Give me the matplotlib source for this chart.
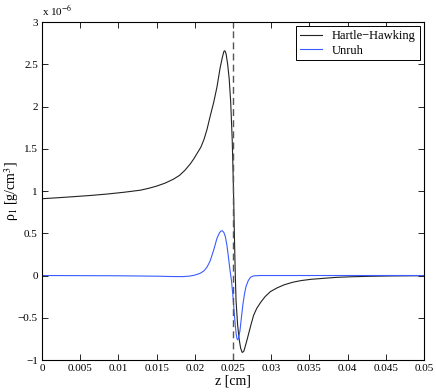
import matplotlib
matplotlib.use("Agg")
import matplotlib.pyplot as plt
from matplotlib.ticker import FuncFormatter

plt.rcParams["font.family"] = ["Liberation Serif", "DejaVu Serif"]
plt.rcParams["mathtext.fontset"] = "stix"

# values, rho in units of 1e-6 g/cm^3
z_hh = [0.0, 0.002, 0.0041, 0.0063, 0.0085, 0.0107, 0.0129, 0.0140, 0.0150,
        0.0161, 0.0172, 0.0180, 0.0187, 0.0194, 0.0199, 0.0203, 0.0208,
        0.0212, 0.0216, 0.0220, 0.0225, 0.0229, 0.0233, 0.0236, 0.0238,
        0.0239, 0.0240, 0.0241, 0.0243, 0.0245, 0.0247, 0.0249, 0.0250,
        0.0251, 0.0252, 0.0253, 0.0254, 0.0256, 0.0258, 0.0260, 0.0262,
        0.0264, 0.0266, 0.0269, 0.0273, 0.0277, 0.0281, 0.0286, 0.0292,
        0.0299, 0.0308, 0.0317, 0.0328, 0.0339, 0.0352, 0.0369, 0.0385,
        0.0404, 0.0430, 0.0457, 0.0500]
rho_hh = [0.909, 0.92, 0.933, 0.947, 0.964, 0.985, 1.01, 1.033, 1.058,
          1.093, 1.14, 1.185, 1.245, 1.32, 1.385, 1.445, 1.52,
          1.61, 1.73, 1.88, 2.06, 2.23, 2.45, 2.58, 2.65,
          2.66, 2.65, 2.62, 2.50, 2.33, 2.05, 1.60, 1.25,
          0.85, 0.40, 0.0, -0.30, -0.58, -0.75, -0.86, -0.91,
          -0.90, -0.84, -0.74, -0.60, -0.47, -0.39, -0.32, -0.25,
          -0.19, -0.145, -0.11, -0.08, -0.06, -0.045, -0.033, -0.022,
          -0.015, -0.009, -0.005, -0.002]

z_u = [0.0, 0.010, 0.015, 0.017, 0.0185, 0.0194, 0.0200, 0.0207, 0.0212,
       0.0216, 0.0220, 0.0225, 0.0229, 0.0232, 0.0234, 0.0236, 0.0238,
       0.0240, 0.0242, 0.0244, 0.0246, 0.0248, 0.0250, 0.0252, 0.0254,
       0.0255, 0.0256, 0.0257, 0.0259, 0.0261, 0.0263, 0.0265, 0.0267,
       0.0270, 0.0273, 0.0277, 0.0286, 0.0500]
rho_u = [0.0, -0.003, -0.008, -0.012, -0.013, -0.006, 0.005, 0.026, 0.055,
         0.10, 0.17, 0.31, 0.44, 0.50, 0.525, 0.53, 0.51,
         0.46, 0.36, 0.22, 0.07, -0.06, -0.25, -0.49, -0.68,
         -0.74, -0.76, -0.75, -0.66, -0.50, -0.34, -0.22, -0.13,
         -0.06, -0.02, -0.004, 0.0, 0.0]

z_horizon = 0.025

fig = plt.figure(figsize=(4.36, 3.92), dpi=100)
ax = fig.add_axes([0.0963, 0.0816, 0.8762, 0.8622])

ax.plot(z_hh, rho_hh, color="#222222", lw=0.8, label="Hartle\u2212Hawking")
ax.plot(z_u, rho_u, color="#3a5cff", lw=0.8, label="Unruh")
ax.axvline(z_horizon, color="#555555", lw=1.0, linestyle=(0, (5, 3)))

ax.set_xlim(0, 0.05)
ax.set_ylim(-1, 3)
ax.set_xticks([i * 0.005 for i in range(11)])
ax.set_yticks([-1, -0.5, 0, 0.5, 1, 1.5, 2, 2.5, 3])
ax.xaxis.set_major_formatter(FuncFormatter(lambda v, p: "%g" % round(v, 4)))
ax.yaxis.set_major_formatter(FuncFormatter(lambda v, p: ("%g" % v).replace("-", "\u2212")))
ax.tick_params(direction="in", top=True, right=True, length=4, width=0.6,
               labelsize=8, pad=3)
for s in ax.spines.values():
    s.set_linewidth(0.8)

ax.set_xlabel("z [cm]", fontsize=10, labelpad=1)
ax.set_ylabel("\u03c1$_1$ [g/cm$^3$]", fontsize=10)
ax.yaxis.set_label_coords(-0.055, 0.5)
ax.text(0.0, 1.012, r"x 10$^{-6}$", transform=ax.transAxes, fontsize=8,
        ha="left", va="bottom")

leg = ax.legend(loc="upper right", fontsize=9, fancybox=False, framealpha=1,
                edgecolor="black", borderaxespad=0.35, handlelength=1.8,
                borderpad=0.3, labelspacing=0.2)
leg.get_frame().set_linewidth(0.7)

fig.savefig("out.png", dpi=100)
